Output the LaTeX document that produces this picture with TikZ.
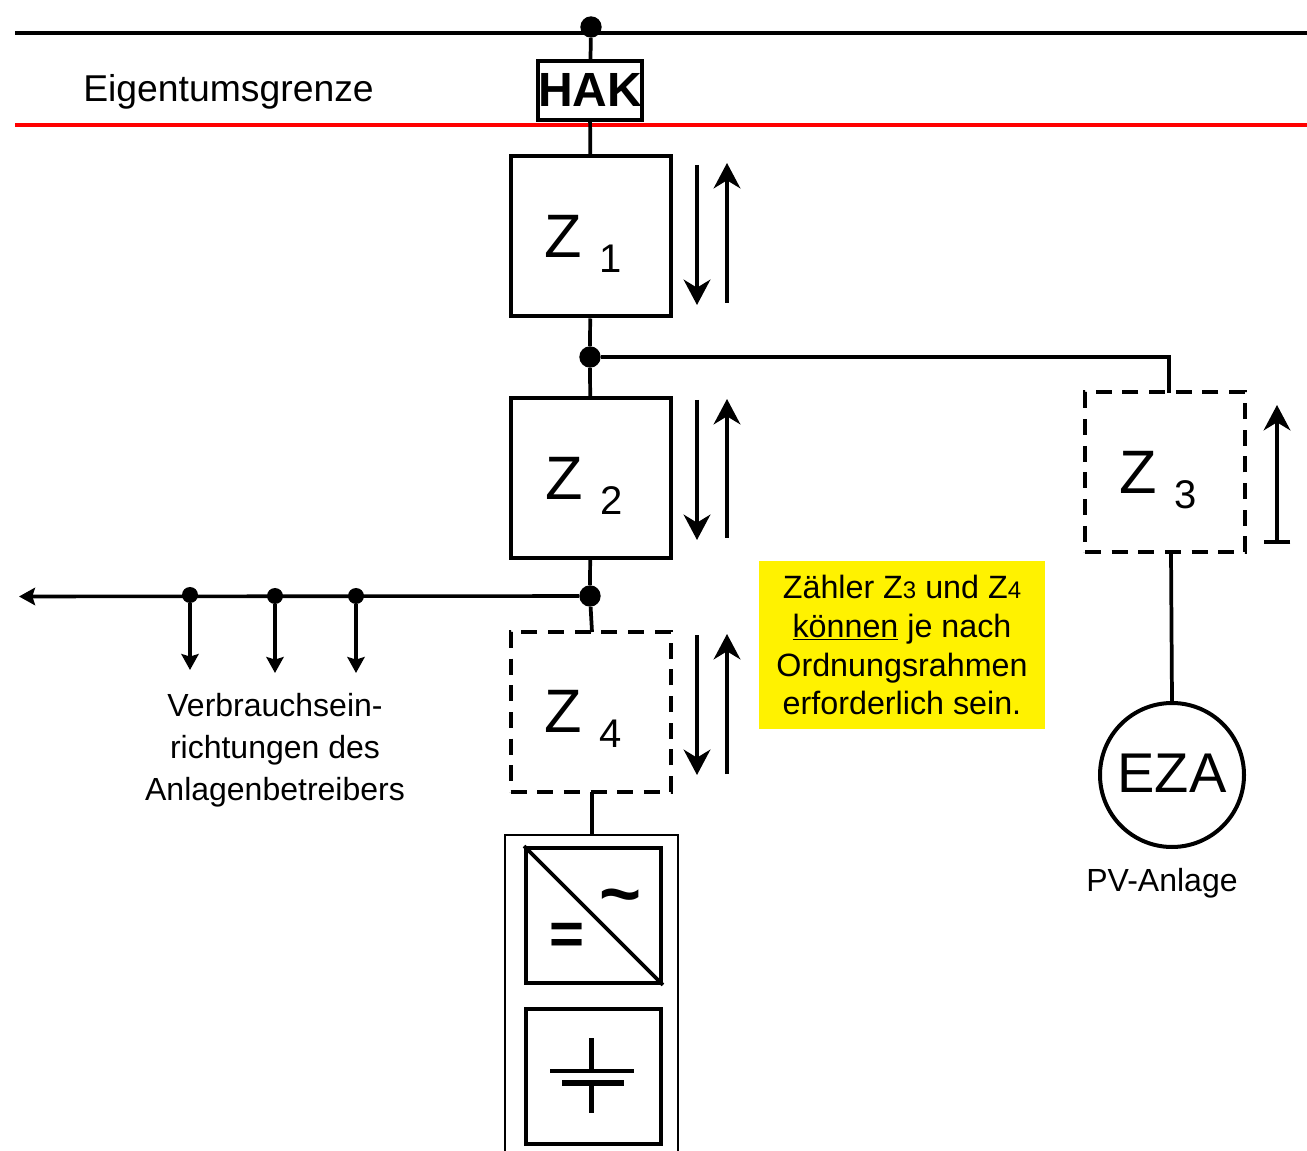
\documentclass[tikz,border=0pt]{standalone}
\usepackage{fontspec}
\setmainfont{Liberation Sans}
\usetikzlibrary{arrows.meta}
\newcommand{\pxfont}[2]{\fontsize{#1}{#2}\selectfont}
\tikzset{wire/.style={line width=2.8pt},
	meterbox/.style={draw,line width=3pt,minimum size=120pt,inner sep=0pt},
	optbox/.style={meterbox,dash pattern=on 12pt off 8pt},
	conbox/.style={draw,line width=3.2pt,minimum size=101pt,inner sep=0pt},
	bigdot/.style={circle,fill=black,minimum size=16pt,inner sep=0pt},
	smalldot/.style={circle,fill=black,minimum size=12pt,inner sep=0pt},
	flow/.style={line width=2.8pt,-{Stealth[length=19pt,width=20pt,inset=6pt]}},
	tap/.style={line width=2.7pt,-{Stealth[length=12pt,width=13pt,inset=2pt]}},
	zlabel/.style={font=\pxfont{46}{46},inner sep=0pt},
	znum/.style={font=\pxfont{30}{30},inner sep=0pt},
	plain/.style={font=\pxfont{24}{31.5},align=center,inner sep=0pt},
	}

\begin{document}
\begin{tikzpicture}[x=0.75pt,y=-0.75pt]
	\useasboundingbox (0,0) rectangle (1307,1151);
	% busbars
	\coordinate (busl) at (15,33);
	\coordinate (busr) at (1307,33);
	\coordinate (redl) at (15,125);
	\coordinate (redr) at (1307,125);
	\draw[wire] (busl) -- (busr);
	\draw[line width=3pt,red] (redl) -- (redr);
	\node[font=\pxfont{28}{30},anchor=west,inner sep=0pt] (grenze) at (83,92) {Eigentumsgrenze};
	% meters
	\node[draw,line width=3pt,inner sep=0pt,minimum width=76pt,minimum height=44pt,font=\bfseries\pxfont{36}{36}] (hak) at (590,90.5) {\raisebox{0.8pt}{HAK}};
	\node[meterbox] (z1) at (590.5,236.5) {};
	\node[meterbox] (z2) at (590.5,478) {};
	\node[optbox] (z3) at (1165,472.5) {};
	\node[optbox] (z4) at (590.5,712) {};
	\node[zlabel] (z1l) at (563,236) {Z};
	\node[znum] (z1n) at (611,259) {1};
	\node[zlabel] (z2l) at (564,478) {Z};
	\node[znum] (z2n) at (612,501) {2};
	\node[zlabel] (z3l) at (1138,472) {Z};
	\node[znum] (z3n) at (1186,495) {3};
	\node[zlabel] (z4l) at (563,711) {Z};
	\node[znum] (z4n) at (611,734) {4};
	% junctions
	\node[bigdot] (top) at (591,27) {};
	\node[bigdot] (j1) at (590,357) {};
	\node[bigdot] (j2) at (590,596) {};
	\node[smalldot] (t1) at (190,595) {};
	\node[smalldot] (t2) at (275,596) {};
	\node[smalldot] (t3) at (356,596) {};
	% generator
	\node[circle,draw,line width=3pt,minimum size=108pt,inner sep=0pt,font=\pxfont{42}{42}] (eza) at (1172,775) {\raisebox{2.5pt}{EZA}};
	\node[plain] (pv) at (1162,883) {PV-Anlage};
	% converter and battery
	\coordinate (rackl) at (505,1151);
	\coordinate (racktl) at (505,835);
	\coordinate (racktr) at (678,835);
	\coordinate (rackr) at (678,1151);
	\coordinate (rackin) at (592,835);
	\draw[line width=2pt] (rackl) -- (racktl) -- (racktr) -- (rackr);
	\node[conbox] (inv) at (593.5,915.5) {};
	\node[conbox] (bat) at (593.5,1076.5) {};
	\draw[line width=2.7pt] (inv.north west) -- (inv.south east);
	\node[font=\bfseries\pxfont{45}{45},inner sep=0pt] (dc) at (567,939) {=};
	\node[font=\bfseries\pxfont{54}{54},inner sep=0pt] (ac) at (621,904) {\char`\~};
	\coordinate (plus) at (591.5,1038);
	\coordinate (plusin) at (591.5,1071);
	\coordinate (minusin) at (591.5,1083);
	\coordinate (minus) at (591.5,1113);
	\coordinate (platel) at (550,1071);
	\coordinate (plater) at (634,1071);
	\coordinate (shortl) at (562,1083);
	\coordinate (shortr) at (624,1083);
	\draw[line width=3.7pt] (plus) -- (plusin);
	\draw[line width=3.7pt] (minusin) -- (minus);
	\draw[line width=3.7pt] (platel) -- (plater);
	\draw[line width=4.5pt] (shortl) -- (shortr);
	% wires
	\coordinate (z3in) at (1169,393);
	\coordinate (z3out) at (1171,552);
	\coordinate (z4out) at (592,792);
	\coordinate (z4in) at (592,632);
	\coordinate (load) at (19,596.5);
	\draw[wire] (top) -- (hak);
	\draw[wire] (hak) -- (z1);
	\draw[wire] (z1) -- (j1);
	\draw[wire] (j1) -- (z2);
	\draw[wire] (z2) -- (j2);
	\draw[wire] (j2) -- (z4in);
	\draw[wire] (z4out) -- (rackin);
	\draw[wire] (j1) -| (z3in);
	\draw[wire] (z3out) -- (eza.north);
	% load branch
	\coordinate (t1e) at (190,670);
	\coordinate (t2e) at (275,673);
	\coordinate (t3e) at (356,673);
	\draw[tap] (j2) -- (load);
	\draw[tap] (t1) -- (t1e);
	\draw[tap] (t2) -- (t2e);
	\draw[tap] (t3) -- (t3e);
	\node[plain] (verbr) at (275,750) {Verbrauchsein-\\richtungen des\\Anlagenbetreibers};
	% direction arrows
	\coordinate (d1a) at (697,165);
	\coordinate (d1b) at (697,305);
	\coordinate (u1a) at (727,303);
	\coordinate (u1b) at (727,163);
	\coordinate (d2a) at (697,400);
	\coordinate (d2b) at (697,540);
	\coordinate (u2a) at (727,538);
	\coordinate (u2b) at (727,399);
	\coordinate (d4a) at (697,635);
	\coordinate (d4b) at (697,775);
	\coordinate (u4a) at (727,774);
	\coordinate (u4b) at (727,634);
	\coordinate (u3a) at (1277,544);
	\coordinate (u3b) at (1277,405);
	\draw[flow] (d1a) -- (d1b);
	\draw[flow] (u1a) -- (u1b);
	\draw[flow] (d2a) -- (d2b);
	\draw[flow] (u2a) -- (u2b);
	\draw[flow] (d4a) -- (d4b);
	\draw[flow] (u4a) -- (u4b);
	\draw[line width=2.8pt,{Bar[width=20pt]}-{Stealth[length=19pt,width=20pt,inset=6pt]}] (u3a) -- (u3b);
	% note
	\node[fill=yellow,minimum width=214.5pt,minimum height=126pt,inner sep=0pt,font=\pxfont{24.2}{29.25},align=center] (note) at (902,645) {\raisebox{-0.7pt}{Zähler Z{\pxfont{18}{18}3} und Z{\pxfont{18}{18}4}}\\\raisebox{-0.7pt}{\underline{können} je nach}\\\raisebox{-0.7pt}{Ordnungsrahmen}\\erforderlich sein.};
\end{tikzpicture}
\end{document}
